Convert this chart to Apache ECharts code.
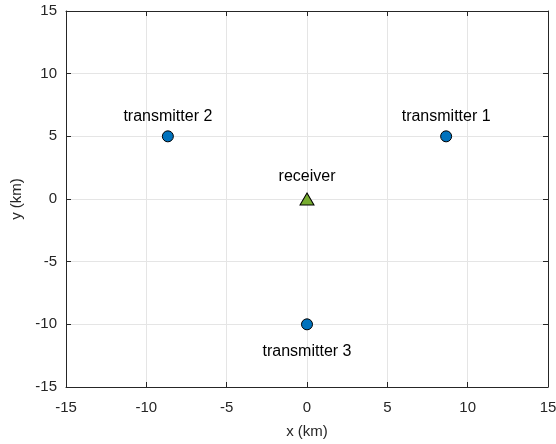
<!DOCTYPE html>
<html>
<head>
<meta charset="utf-8">
<script src="https://cdn.jsdelivr.net/npm/echarts@6/dist/echarts.min.js"></script>
<style>
html, body { margin: 0; padding: 0; background: #fff; }
#main { width: 556px; height: 444px; }
</style>
</head>
<body>
<div id="main"></div>
<script>
// station positions (km)
var txNames = ['transmitter 1', 'transmitter 2', 'transmitter 3'];
var txX = [8.66, -8.66, 0];
var txY = [5, 5, -10];
var rxName = 'receiver';
var rxX = [0];
var rxY = [0];
var axisMin = -15, axisMax = 15, axisStep = 5;

var font = 'Liberation Sans, Arial, sans-serif';

var txData = [];
for (var i = 0; i < txNames.length; i++) {
    txData.push({
        value: [txX[i], txY[i]],
        name: txNames[i],
        label: { position: txY[i] < 0 ? 'bottom' : 'top', distance: txY[i] < 0 ? 13 : 6 }
    });
}
var rxData = [{ value: [rxX[0], rxY[0]], name: rxName }];

function mainAxis(name, gap, margin) {
    return {
        type: 'value', min: axisMin, max: axisMax, interval: axisStep,
        name: name, nameLocation: 'middle', nameGap: gap,
        nameTextStyle: { fontFamily: font, fontSize: 15, color: '#262626' },
        axisLine: { show: true, onZero: false, lineStyle: { color: '#262626', width: 1 } },
        axisTick: { show: true, inside: true, length: 5, lineStyle: { color: '#262626' } },
        axisLabel: { fontFamily: font, fontSize: 15, color: '#262626', margin: margin },
        splitLine: { show: true, lineStyle: { color: '#e5e5e5', width: 1 } }
    };
}
function boxAxis(pos) {
    return {
        type: 'value', min: axisMin, max: axisMax, interval: axisStep, position: pos,
        axisLine: { show: true, onZero: false, lineStyle: { color: '#262626', width: 1 } },
        axisTick: { show: true, inside: true, length: 5, lineStyle: { color: '#262626' } },
        axisLabel: { show: false },
        splitLine: { show: false }
    };
}

var xMain = mainAxis('x (km)', 37, 13);
var yMain = mainAxis('y (km)', 40, 9);
xMain.position = 'bottom';
yMain.position = 'left';

var myChart = echarts.init(document.getElementById('main'));
myChart.setOption({
    animation: false,
    grid: { left: 66, right: 8, top: 11, bottom: 57, outerBoundsMode: 'none' },
    xAxis: [xMain, boxAxis('top')],
    yAxis: [yMain, boxAxis('right')],
    series: [
        {
            name: 'transmitters',
            type: 'scatter',
            symbol: 'circle',
            symbolSize: 11,
            itemStyle: { color: '#0072BD', borderColor: '#000', borderWidth: 1, opacity: 1 },
            label: {
                show: true, formatter: '{b}',
                fontFamily: font, fontSize: 16, color: '#000'
            },
            data: txData
        },
        {
            name: 'receiver',
            type: 'scatter',
            symbol: 'triangle',
            symbolSize: [14, 12],
            itemStyle: { color: '#77AC30', borderColor: '#000', borderWidth: 1, opacity: 1 },
            label: {
                show: true, position: 'top', distance: 8, formatter: '{b}',
                fontFamily: font, fontSize: 16, color: '#000'
            },
            data: rxData
        }
    ]
});
</script>
</body>
</html>
